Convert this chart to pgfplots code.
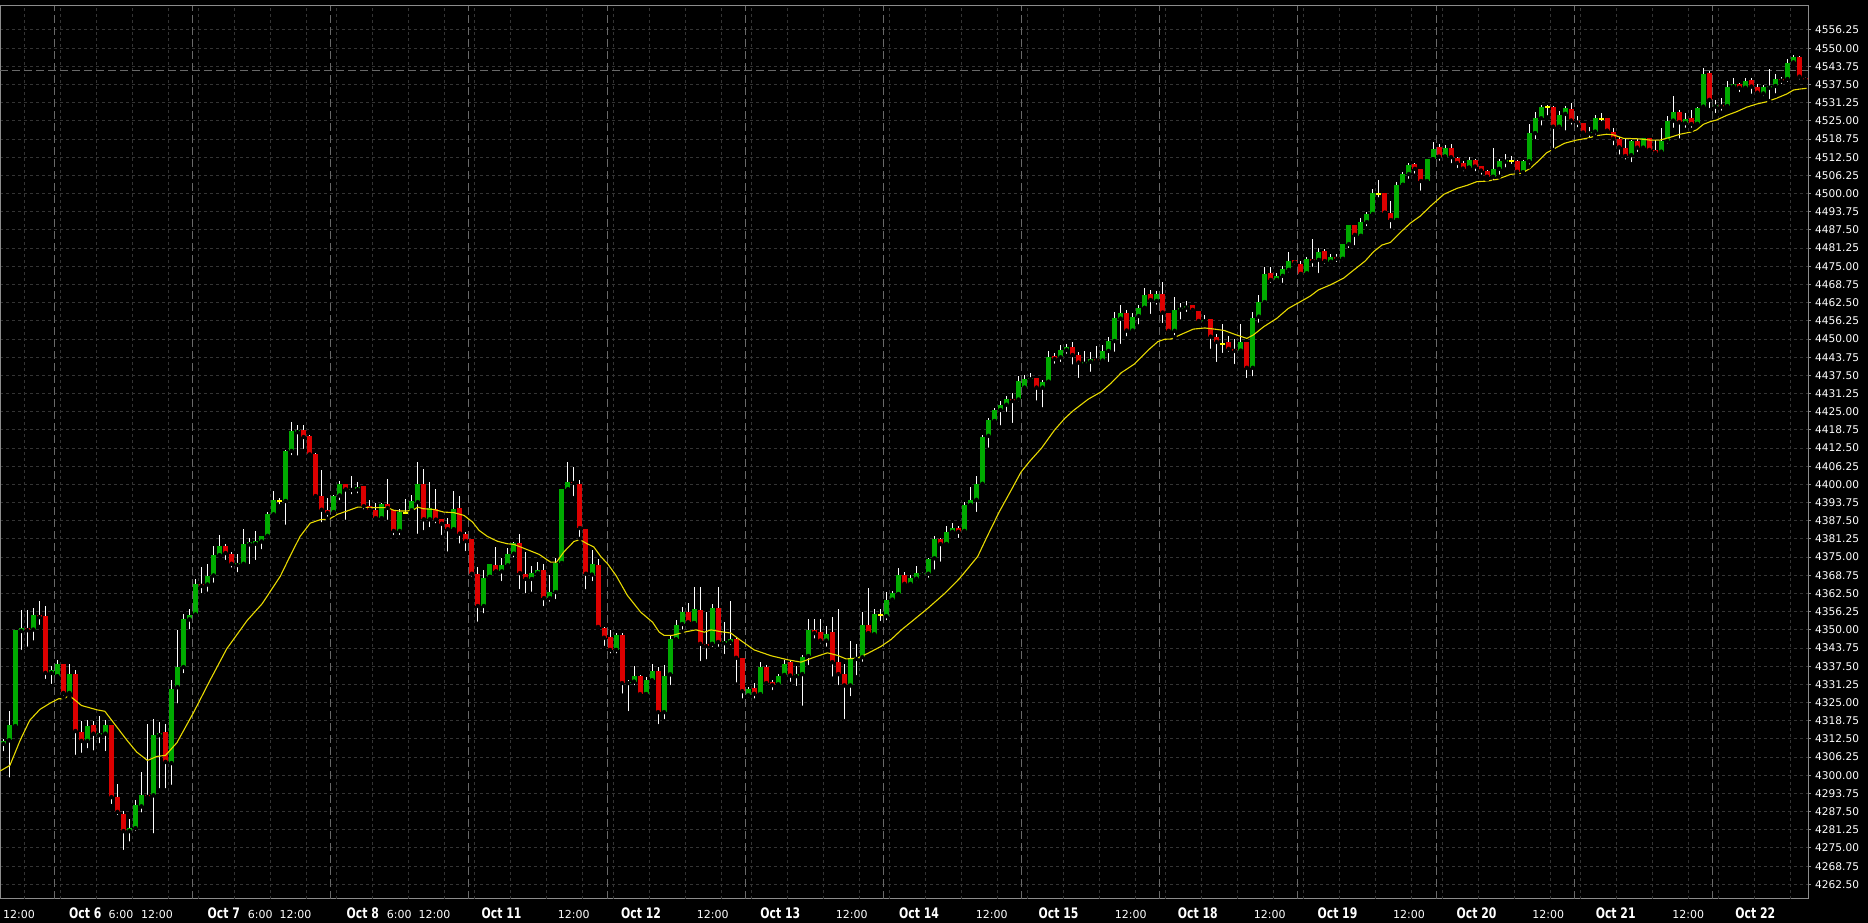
\documentclass[border=0pt]{standalone}
\usepackage{pgfplots}
\pgfplotsset{compat=1.18}
\usepackage{pgfplotstable}
\usepackage{fontspec}
\setmainfont{DejaVu Sans}
\newfontfamily\datefont[FakeStretch=0.75]{DejaVu Sans}
\definecolor{bull}{RGB}{0,170,0}
\definecolor{bear}{RGB}{220,0,0}
\definecolor{maline}{RGB}{232,218,0}
\definecolor{doji}{RGB}{255,255,0}
\definecolor{gridc}{RGB}{52,52,52}
\definecolor{sepc}{RGB}{105,105,105}
\definecolor{framec}{RGB}{140,140,140}
\definecolor{pricec}{RGB}{105,105,105}
\newcommand\TL[1]{{\fontsize{11}{12}\selectfont #1}}
\newcommand\DL[1]{{\datefont\bfseries\fontsize{14.5}{15}\selectfont #1}}

\pgfplotstableread{
i O H L C
0 4310.8 4312.5 4307.6 4311.8
1 4312.0 4322.0 4298.5 4317.2
2 4316.9 4350.0 4316.0 4349.8
3 4349.6 4356.7 4342.4 4350.5
5 4350.1 4357.5 4345.6 4355.0
8 4335.2 4337.6 4330.7 4336.1
9 4334.0 4339.5 4334.0 4338.1
11 4328.3 4338.1 4326.9 4334.7
14 4311.8 4318.9 4308.6 4316.8
16 4313.8 4320.5 4310.3 4314.5
17 4314.3 4318.9 4307.6 4317.2
21 4280.8 4285.1 4276.5 4281.8
22 4281.8 4291.4 4280.1 4289.7
23 4289.3 4301.0 4286.5 4293.1
25 4293.1 4319.5 4279.3 4313.7
26 4313.8 4318.3 4294.8 4314.6
28 4304.2 4332.6 4296.0 4329.8
29 4330.3 4349.8 4324.0 4337.2
30 4337.2 4355.6 4334.4 4353.6
31 4353.6 4357.3 4349.5 4355.2
32 4355.3 4367.4 4354.6 4365.6
34 4365.6 4372.7 4362.4 4368.4
35 4368.7 4378.8 4365.5 4375.6
36 4375.6 4382.7 4375.6 4378.8
39 4372.3 4376.2 4369.1 4373.0
40 4372.7 4384.8 4371.6 4379.4
41 4379.4 4381.6 4371.9 4380.3
42 4379.6 4383.9 4373.3 4380.4
43 4380.4 4382.3 4377.0 4382.3
44 4382.3 4390.4 4380.8 4389.7
45 4389.7 4397.6 4389.1 4394.5
47 4394.3 4412.0 4385.4 4411.5
48 4411.5 4421.3 4409.4 4418.2
49 4418.0 4420.3 4409.2 4418.6
55 4390.5 4396.5 4389.9 4395.9
56 4396.2 4401.1 4393.9 4400.3
58 4398.1 4403.0 4395.9 4398.6
59 4398.3 4401.0 4396.2 4399.0
63 4388.4 4393.6 4387.1 4393.4
66 4384.0 4391.7 4381.9 4390.5
68 4391.1 4396.5 4390.7 4394.2
69 4393.9 4407.6 4382.3 4400.3
71 4388.0 4401.0 4384.6 4392.0
75 4384.6 4397.6 4383.6 4391.7
80 4358.2 4370.5 4355.0 4367.9
81 4368.2 4372.5 4368.2 4372.5
83 4370.1 4374.7 4366.1 4372.2
84 4372.2 4378.1 4371.0 4376.2
85 4376.2 4380.2 4374.2 4379.9
88 4367.5 4371.9 4362.4 4369.4
89 4369.5 4373.4 4369.0 4370.5
91 4360.9 4368.7 4359.0 4362.9
92 4363.0 4374.8 4359.9 4372.9
93 4373.0 4398.3 4371.6 4398.3
94 4398.3 4407.6 4398.3 4401.0
98 4369.0 4377.3 4366.1 4372.5
102 4343.1 4348.9 4341.2 4348.1
104 4331.7 4332.6 4321.4 4332.2
105 4332.2 4337.4 4330.3 4334.3
107 4327.9 4333.7 4327.9 4332.6
108 4332.6 4338.3 4332.6 4336.0
110 4321.7 4338.0 4318.6 4334.3
111 4334.7 4348.3 4330.3 4346.7
112 4346.7 4353.5 4346.7 4351.7
113 4352.0 4358.0 4349.4 4356.3
115 4352.3 4364.9 4352.3 4357.0
118 4345.2 4359.0 4343.5 4357.5
120 4345.4 4352.6 4341.0 4346.0
121 4345.8 4359.8 4344.1 4346.7
124 4327.5 4330.3 4326.1 4329.8
126 4327.9 4338.8 4327.3 4337.1
129 4331.2 4334.7 4331.2 4334.3
130 4334.5 4339.5 4334.1 4338.4
132 4334.1 4337.7 4330.0 4334.8
133 4334.8 4341.2 4323.2 4340.5
134 4341.0 4353.6 4337.2 4349.8
137 4346.3 4351.2 4343.5 4348.6
141 4330.9 4346.3 4326.5 4340.0
142 4340.0 4345.0 4333.7 4340.6
143 4340.6 4356.3 4338.3 4351.5
145 4348.4 4357.3 4348.4 4355.3
147 4354.7 4363.0 4352.6 4360.4
148 4360.4 4363.5 4359.0 4362.5
149 4362.3 4371.4 4361.5 4368.7
151 4365.8 4368.9 4364.6 4367.7
152 4367.6 4372.0 4366.2 4369.6
153 4369.0 4370.0 4368.1 4369.7
154 4369.3 4374.6 4367.2 4374.3
155 4374.6 4382.4 4370.0 4381.2
157 4379.5 4385.8 4379.5 4383.5
158 4383.7 4386.9 4383.5 4385.0
160 4384.0 4394.1 4382.6 4392.9
161 4392.9 4399.2 4392.9 4394.7
162 4394.7 4402.9 4389.8 4400.2
163 4400.2 4417.0 4399.5 4416.4
164 4416.7 4422.7 4411.9 4422.2
165 4421.8 4426.2 4421.3 4425.6
166 4425.6 4428.7 4419.6 4427.4
167 4427.4 4430.5 4424.2 4429.5
169 4429.2 4437.4 4427.7 4435.6
170 4433.3 4437.6 4432.1 4436.1
171 4436.1 4438.4 4435.3 4436.7
173 4433.3 4435.9 4425.8 4435.3
174 4435.3 4445.9 4435.3 4443.9
176 4443.7 4448.0 4441.4 4446.2
177 4446.2 4448.2 4444.2 4447.4
180 4441.5 4445.9 4440.5 4442.1
181 4442.2 4445.4 4438.0 4443.1
183 4442.6 4448.0 4442.2 4445.9
184 4445.9 4450.8 4441.4 4449.3
185 4449.3 4459.4 4444.9 4457.2
186 4457.0 4461.7 4447.6 4459.1
188 4452.9 4459.1 4452.5 4457.5
189 4457.9 4461.7 4454.3 4460.6
190 4460.7 4467.7 4460.7 4465.1
192 4463.1 4466.6 4461.1 4465.5
195 4452.8 4464.6 4450.6 4460.0
196 4460.1 4462.3 4456.0 4460.7
197 4460.8 4462.9 4458.6 4461.4
200 4456.0 4458.3 4456.0 4456.5
206 4446.0 4455.2 4445.1 4449.1
208 4440.1 4459.4 4436.5 4457.2
209 4457.7 4465.1 4454.9 4462.7
210 4462.7 4474.9 4462.0 4472.4
212 4470.3 4472.6 4469.1 4471.7
213 4471.7 4475.1 4468.6 4474.1
214 4473.8 4479.8 4472.2 4476.8
217 4472.6 4478.3 4472.2 4477.4
219 4477.2 4481.4 4472.0 4479.9
221 4476.6 4479.2 4475.2 4478.3
223 4477.6 4482.7 4476.3 4482.7
224 4482.6 4489.2 4480.6 4489.2
226 4485.5 4491.7 4484.4 4490.2
227 4490.2 4493.8 4488.1 4493.0
228 4493.0 4501.5 4491.7 4500.1
232 4490.9 4504.1 4490.9 4503.0
233 4503.0 4507.5 4503.0 4506.7
234 4506.7 4510.4 4504.4 4509.8
237 4504.3 4511.8 4503.5 4511.8
238 4511.8 4517.6 4511.8 4515.3
240 4512.7 4516.7 4512.7 4515.7
244 4508.9 4512.5 4508.9 4511.6
248 4505.8 4515.6 4503.8 4508.3
249 4508.5 4511.8 4505.8 4511.1
250 4511.0 4513.6 4508.3 4511.6
253 4507.3 4511.6 4507.3 4511.1
254 4511.1 4524.0 4509.3 4520.8
255 4520.8 4528.0 4518.0 4526.0
256 4525.9 4530.5 4522.7 4529.9
259 4523.0 4528.4 4521.6 4527.0
260 4527.4 4530.1 4521.0 4529.3
264 4520.7 4522.9 4518.4 4521.3
265 4521.3 4527.0 4519.6 4525.9
271 4513.2 4518.4 4510.1 4518.1
273 4515.8 4519.2 4514.8 4519.0
276 4514.4 4522.7 4513.6 4518.1
277 4518.1 4526.7 4516.5 4525.1
278 4525.1 4533.6 4521.9 4528.1
280 4524.2 4527.6 4521.9 4525.8
282 4524.0 4529.7 4523.6 4529.4
283 4529.9 4543.1 4529.3 4541.0
285 4529.9 4532.2 4527.0 4530.5
287 4530.1 4538.7 4529.0 4536.7
288 4536.8 4539.6 4536.2 4537.7
290 4536.4 4539.6 4535.6 4538.7
293 4534.4 4537.3 4532.8 4536.8
294 4536.4 4542.8 4531.8 4537.0
295 4537.0 4541.1 4533.7 4539.4
297 4539.4 4546.2 4537.7 4544.8
298 4545.1 4547.7 4543.9 4546.9
}\bulltab

\pgfplotstableread{
i O H L C
4 4350.5 4356.7 4343.5 4349.9
6 4355.0 4359.8 4351.0 4354.4
7 4354.6 4358.1 4332.4 4335.2
10 4338.1 4338.1 4326.7 4328.3
12 4334.7 4336.1 4306.3 4315.2
13 4314.8 4318.7 4307.0 4311.8
15 4317.2 4318.7 4307.8 4314.3
18 4317.2 4317.2 4289.4 4292.5
19 4292.7 4297.1 4285.6 4287.4
20 4286.8 4287.7 4273.6 4280.8
24 4293.1 4317.7 4292.5 4292.5
27 4314.8 4317.5 4294.8 4304.6
33 4365.6 4371.6 4361.9 4365.1
37 4378.8 4379.6 4373.3 4376.4
38 4376.2 4376.8 4370.7 4372.7
50 4418.6 4420.3 4411.5 4416.3
51 4416.5 4416.9 4409.2 4410.3
52 4410.3 4410.9 4394.5 4396.0
53 4395.9 4404.8 4386.3 4391.3
54 4391.1 4395.2 4388.2 4390.2
57 4400.3 4400.3 4387.1 4398.3
60 4399.3 4399.6 4390.7 4392.5
61 4392.5 4394.5 4390.2 4391.3
62 4391.1 4393.6 4387.1 4388.4
64 4393.4 4401.7 4387.1 4391.9
65 4391.3 4391.3 4381.9 4384.0
70 4400.3 4405.4 4383.6 4388.0
72 4391.7 4398.5 4385.9 4387.9
73 4388.0 4388.2 4381.9 4386.5
74 4386.3 4388.6 4376.2 4384.6
76 4392.0 4395.9 4379.0 4383.1
77 4383.1 4383.6 4376.4 4380.5
78 4381.1 4381.1 4367.6 4369.3
79 4369.1 4371.6 4352.1 4358.2
82 4372.2 4378.5 4368.7 4370.1
86 4379.9 4382.8 4363.3 4369.5
87 4369.1 4376.8 4361.9 4367.5
90 4370.7 4372.7 4357.5 4360.9
95 4401.0 4406.0 4395.3 4400.5
96 4400.3 4401.4 4381.3 4385.0
97 4384.8 4384.8 4363.3 4369.3
99 4372.2 4374.5 4349.8 4351.0
100 4350.7 4350.9 4343.8 4347.3
101 4347.7 4349.8 4341.2 4343.1
103 4348.1 4348.9 4327.4 4331.7
106 4334.3 4334.5 4326.9 4327.9
109 4336.0 4337.2 4316.9 4321.7
114 4356.3 4359.4 4352.1 4352.6
116 4356.7 4364.9 4338.6 4345.2
117 4345.1 4356.3 4339.2 4344.4
119 4357.5 4364.9 4343.5 4345.8
122 4346.7 4347.5 4331.2 4340.4
123 4340.3 4340.3 4325.7 4328.9
125 4330.1 4331.8 4325.7 4328.0
127 4337.1 4338.0 4330.3 4331.7
128 4331.9 4332.9 4328.6 4331.0
131 4338.9 4339.5 4331.4 4334.3
135 4349.8 4353.6 4346.3 4348.9
136 4349.1 4353.6 4344.6 4346.3
138 4349.1 4354.4 4333.2 4338.9
139 4338.8 4357.3 4330.3 4334.8
140 4334.7 4338.1 4318.6 4330.9
144 4351.8 4364.5 4348.6 4348.9
150 4368.9 4370.0 4365.2 4365.8
156 4381.2 4381.5 4372.7 4379.5
159 4385.0 4385.8 4380.9 4383.7
168 4429.4 4431.3 4420.4 4428.7
172 4436.6 4436.6 4428.1 4433.3
175 4444.3 4445.1 4440.8 4443.1
178 4447.2 4449.1 4440.5 4444.5
179 4444.5 4445.7 4435.9 4441.9
182 4443.1 4447.6 4441.9 4442.6
187 4458.8 4460.0 4450.2 4452.9
191 4465.5 4466.9 4457.9 4463.4
193 4465.5 4469.6 4454.8 4459.1
194 4459.0 4459.0 4451.4 4452.8
198 4461.6 4461.6 4458.6 4460.0
199 4459.8 4459.8 4456.0 4456.2
201 4456.9 4456.9 4445.9 4450.8
202 4450.6 4451.7 4441.4 4449.0
204 4449.0 4451.0 4444.9 4446.6
205 4446.6 4450.0 4440.7 4445.9
207 4449.1 4449.1 4435.9 4440.1
211 4472.6 4474.9 4468.6 4470.3
215 4477.2 4477.2 4474.9 4476.3
216 4475.8 4476.9 4471.2 4472.4
218 4477.4 4484.4 4474.1 4476.8
220 4480.1 4481.0 4475.2 4476.8
222 4478.3 4479.2 4475.8 4477.6
225 4489.2 4489.2 4481.5 4485.8
230 4500.1 4500.3 4493.4 4493.4
231 4493.2 4497.5 4487.3 4490.9
235 4510.2 4510.4 4506.2 4508.5
236 4508.5 4508.5 4500.3 4504.3
239 4515.9 4517.1 4510.6 4512.7
241 4515.7 4517.1 4509.8 4512.5
242 4512.4 4512.7 4508.1 4510.5
243 4510.6 4511.2 4507.0 4508.6
245 4511.6 4511.9 4507.0 4509.3
246 4509.5 4509.5 4505.8 4507.9
247 4507.8 4508.1 4504.9 4505.8
252 4511.1 4511.6 4506.7 4507.5
258 4529.7 4530.1 4515.0 4523.0
261 4529.1 4531.3 4523.0 4525.1
262 4525.1 4526.7 4522.1 4524.4
263 4524.2 4524.2 4520.4 4521.0
267 4525.9 4526.1 4521.6 4521.6
268 4521.2 4522.6 4515.9 4518.9
269 4518.9 4519.4 4512.7 4515.9
270 4515.8 4519.0 4511.0 4512.9
272 4518.1 4518.7 4513.6 4515.8
274 4519.0 4519.0 4514.1 4515.0
275 4515.0 4518.4 4512.9 4514.1
279 4528.1 4528.7 4518.2 4524.5
281 4526.0 4528.7 4521.9 4523.9
284 4541.4 4542.3 4528.7 4532.2
286 4530.5 4532.8 4527.8 4529.9
289 4537.7 4537.9 4534.2 4536.4
291 4539.1 4539.6 4533.6 4536.8
292 4536.5 4537.6 4534.2 4534.7
296 4539.4 4540.2 4537.0 4538.8
299 4546.9 4547.3 4538.5 4540.2
300 4539.8 4540.2 4538.1 4539.2
}\beartab

\pgfplotstableread{
i O H L C
46 4394.3 4395.5 4392.5 4394.3
67 4390.2 4395.1 4389.4 4390.2
146 4355.1 4357.2 4352.3 4355.1
203 4448.3 4455.2 4444.5 4448.3
229 4500.0 4504.7 4498.0 4500.0
251 4511.3 4512.9 4509.5 4511.3
257 4529.6 4530.5 4526.2 4529.6
266 4525.8 4527.8 4524.2 4525.8
}\dojitab

\begin{document}
\begin{tikzpicture}
\path[use as bounding box, fill=black] (0pt,-24pt) rectangle (1868pt,899pt);
\begin{axis}[
  at={(0pt,0pt)}, anchor=south west,
  scale only axis, width=1808pt, height=893pt,
  xmin=-0.55, xmax=300.43, ymin=4257.46, ymax=4564.5,
  axis line style={draw=framec, line width=1pt},
  tick align=outside,
  major tick length=3pt,
  scaled y ticks=false,
  ytick={4262.5,4268.75,...,4556.25},
  ytick pos=right, yticklabel pos=right,
  ytick style={draw=framec, line width=1pt},
  y tick label style={font=\fontsize{10.6}{12}\selectfont, text=white, anchor=west, inner sep=0pt, xshift=4pt},
  /pgf/number format/fixed, /pgf/number format/fixed zerofill,
  /pgf/number format/precision=2, /pgf/number format/1000 sep={},
  /pgf/number format/assume math mode=true,
  ymajorgrids,
  major grid style={draw=gridc, line width=1pt, dash pattern=on 3pt off 3pt},
  xtick={-0.05,10.94,17.51,22.92,33.98,40.67,45.96,57.13,63.83,69.12,79.59,92.28,102.83,115.42,126,138.57,149.1,161.86,172.33,185.02,195.49,208.16,218.75,231.32,241.9,254.5,265.06,277.83,288.3},
  xticklabels={\TL{12:00},\DL{Oct 6},\TL{6:00},\TL{12:00},\DL{Oct 7},\TL{6:00},\TL{12:00},\DL{Oct 8},\TL{6:00},\TL{12:00},\DL{Oct 11},\TL{12:00},\DL{Oct 12},\TL{12:00},\DL{Oct 13},\TL{12:00},\DL{Oct 14},\TL{12:00},\DL{Oct 15},\TL{12:00},\DL{Oct 18},\TL{12:00},\DL{Oct 19},\TL{12:00},\DL{Oct 20},\TL{12:00},\DL{Oct 21},\TL{12:00},\DL{Oct 22}},
  xtick style={draw=none},
  x tick label style={anchor=base west, inner sep=0pt, yshift=-17pt, text=white},
  extra x ticks={3.5,9.5,15.5,21.5,27.5,32.5,38.5,44.5,50.5,55.5,61.5,67.5,73.5,78.5,84.5,90.5,96.5,101.5,107.5,113.5,119.5,124.5,130.5,136.5,142.5,147.5,153.5,159.5,165.5,170.5,176.5,182.5,188.5,193.5,199.5,205.5,211.5,216.5,222.5,228.5,234.5,239.5,245.5,251.5,257.5,262.5,268.5,274.5,280.5,285.5,291.5,297.5},
  extra x tick labels={},
  extra x tick style={grid=major, tick style={draw=none}},
]
\pgfplotsinvokeforeach{8.5,31.5,54.5,77.5,100.5,123.5,146.5,169.5,192.5,215.5,238.5,261.5,284.5}{
  \draw[sepc, line width=1pt, dash pattern=on 8pt off 4pt] (axis cs:#1,4257.46) -- (axis cs:#1,4564.5);
}
\draw[pricec, line width=1pt, dash pattern=on 8pt off 4pt] (axis cs:-0.55,4542.15) -- (axis cs:300.43,4542.15);

% wicks
\addplot[only marks, mark=none, forget plot, error bars/.cd, y dir=plus, y explicit, error mark=none, error bar style={draw=white, line width=1pt}]
  table[x=i, y=L, y error plus expr=\thisrow{H}-\thisrow{L}] {\bulltab};
\addplot[only marks, mark=none, forget plot, error bars/.cd, y dir=plus, y explicit, error mark=none, error bar style={draw=white, line width=1pt}]
  table[x=i, y=L, y error plus expr=\thisrow{H}-\thisrow{L}] {\beartab};
\addplot[only marks, mark=none, forget plot, error bars/.cd, y dir=plus, y explicit, error mark=none, error bar style={draw=white, line width=1pt}]
  table[x=i, y=L, y error plus expr=\thisrow{H}-\thisrow{L}] {\dojitab};
% bodies
\addplot[only marks, mark=none, forget plot, error bars/.cd, y dir=plus, y explicit, error mark=none, error bar style={draw=bull, line width=5pt}]
  table[x=i, y=O, y error plus expr=\thisrow{C}-\thisrow{O}] {\bulltab};
\addplot[only marks, mark=none, forget plot, error bars/.cd, y dir=plus, y explicit, error mark=none, error bar style={draw=bear, line width=5pt}]
  table[x=i, y=C, y error plus expr=\thisrow{O}-\thisrow{C}] {\beartab};
\addplot[only marks, mark=-, mark size=2.5pt, mark options={draw=doji, line width=2pt}, forget plot]
  table[x=i, y=O] {\dojitab};
% moving average
\addplot[maline, line width=1.1pt, mark=none] coordinates {
(-0.5,4301.5) (1.1,4303.4) (2.8,4312) (4.4,4318.9) (6.1,4322.65) (7.8,4324.8) (9.2,4326.3) (10,4326.3) (11,4327.35) (12,4325.75) (13,4324) (15.6,4322.5) (16.9,4322) (18.9,4316.6) (20.6,4312) (22.2,4308) (24,4305.1) (25.6,4306.5) (27,4306.85) (28.9,4311.2) (31.7,4321.7) (34.4,4332.6) (37.2,4343.5) (40.6,4353.25) (43.1,4359) (46.1,4368.4) (47.8,4375.6) (49.4,4382.1) (51.1,4386.7) (52.8,4387.9) (54.2,4388) (55.6,4389.7) (57.2,4390.85) (59,4392.2) (60,4392.2) (61.1,4392) (62.8,4392) (64,4392) (65,4391.1) (66.1,4390.85) (67.2,4390.85) (68.3,4391.3) (69,4392.2) (69.9,4391.65) (71.7,4391.4) (73.3,4390.5) (75,4390.3) (76.7,4389.35) (78.1,4387.1) (79.2,4384.2) (80.6,4382.1) (82.2,4380.5) (83.9,4379.6) (85,4379.4) (86.1,4378.5) (87.8,4377.1) (89.2,4375.95) (91.1,4373.3) (92.1,4373.3) (93.3,4376.75) (95,4380.4) (96,4381) (97.2,4379.6) (98.3,4378.5) (99.5,4375.1) (100.6,4372.7) (102,4368.7) (103.9,4361.8) (106.1,4356.1) (108.1,4352.6) (109.2,4349.2) (110,4348.1) (111.4,4348.1) (113.3,4349.2) (115.3,4350) (116.7,4349.2) (117.8,4350) (119.4,4349.4) (121.1,4348.9) (122.8,4346.3) (125,4343.1) (127.8,4341.1) (130.6,4339.7) (132.8,4338.9) (135,4340.6) (137.2,4342.1) (138.9,4341.2) (140.3,4340.0) (142.2,4340.3) (143.9,4341.9) (146.1,4344.3) (147.8,4346.7) (149.4,4349.8) (151.3,4353) (153.9,4357.4) (156.7,4362.5) (159.2,4367.7) (160.6,4371.2) (162.2,4375.2) (163.9,4382.6) (165.8,4390.6) (167.8,4398.1) (169.4,4404.2) (170.8,4407.8) (172.8,4412.4) (175,4418.7) (176.7,4422.7) (178.1,4425.35) (180.6,4429.3) (182.8,4431.9) (184.4,4434.8) (186.1,4438.4) (188.3,4441.4) (190.6,4446.2) (192.2,4449.1) (193.3,4449.9) (194.4,4450) (196.1,4451.6) (198.1,4453.4) (200,4453.8) (202,4453.3) (203.3,4452.9) (205,4451.6) (207,4450.2) (208.1,4451.4) (209.8,4454.2) (212,4457.1) (213.9,4460.5) (215.9,4462.8) (217.6,4464.8) (218.9,4466.85) (220.9,4468.6) (223.1,4470.9) (224.8,4473.7) (226.7,4476.8) (228.1,4480) (229.5,4482.3) (230.9,4483.2) (232.6,4486.7) (234.2,4489.8) (235.9,4492.3) (237.6,4495.7) (239.8,4499.75) (242,4501.8) (243.7,4502.85) (245.3,4504.1) (247,4504.3) (248.7,4504.9) (250.9,4506.6) (252.8,4507) (254.2,4508.7) (255.7,4511.5) (256.9,4514) (258.6,4515.9) (259.9,4517.3) (261.9,4518.4) (263.6,4519) (265.5,4520) (266.9,4520.4) (268,4520.2) (269.7,4519) (271.3,4518.9) (272.4,4518.8) (274.1,4518.4) (275.8,4518.4) (277.4,4519.3) (279.1,4520.4) (280.8,4521.1) (281.9,4521.9) (283,4523.8) (284.1,4524.7) (285.2,4525.3) (286.9,4526.9) (288.6,4528.2) (290.2,4529.7) (291.9,4530.8) (293.6,4531.6) (295.2,4532.8) (296.9,4534.25) (298,4535.6) (299.1,4535.95) (300.2,4536.2)
};
\end{axis}
\end{tikzpicture}
\end{document}
